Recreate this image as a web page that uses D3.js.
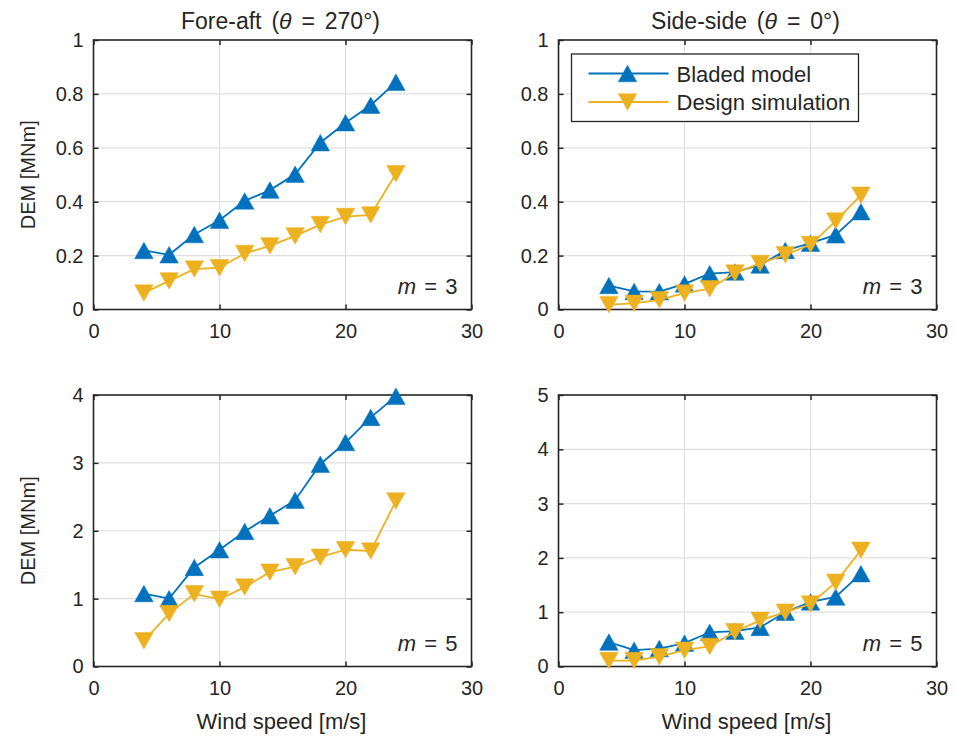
<!DOCTYPE html>
<html>
<head>
<meta charset="utf-8">
<script src="https://cdn.jsdelivr.net/npm/d3@7"></script>
<style>
  html, body { margin: 0; padding: 0; background: #fff; }
  svg text { font-family: "Liberation Sans", Arial, sans-serif; fill: #262626; }
</style>
</head>
<body>
<svg id="chart" width="955" height="742"></svg>
<script>
// ---------------- data ----------------
const windSpeed = [4, 6, 8, 10, 12, 14, 16, 18, 20, 22, 24];

const foreAftM3Bladed = [0.219, 0.203, 0.278, 0.331, 0.403, 0.443, 0.502, 0.619, 0.693, 0.758, 0.843];
const foreAftM3Design = [0.061, 0.106, 0.150, 0.155, 0.208, 0.236, 0.273, 0.315, 0.345, 0.351, 0.504];
const sideSideM3Bladed = [0.089, 0.067, 0.066, 0.095, 0.133, 0.139, 0.165, 0.219, 0.246, 0.277, 0.363];
const sideSideM3Design = [0.018, 0.023, 0.036, 0.061, 0.077, 0.135, 0.171, 0.203, 0.241, 0.328, 0.424];
const foreAftM5Bladed = [1.075, 1.00, 1.46, 1.72, 1.99, 2.22, 2.45, 2.98, 3.30, 3.67, 3.98];
const foreAftM5Design = [0.38, 0.78, 1.07, 0.99, 1.17, 1.39, 1.47, 1.61, 1.72, 1.70, 2.44];
const sideSideM5Bladed = [0.45, 0.30, 0.33, 0.43, 0.63, 0.65, 0.72, 1.00, 1.19, 1.28, 1.71];
const sideSideM5Design = [0.11, 0.11, 0.18, 0.30, 0.37, 0.64, 0.85, 1.00, 1.15, 1.55, 2.14];

const xTicks = [0, 10, 20, 30];
const yTicksM3 = [0, 0.2, 0.4, 0.6, 0.8, 1];
const yTicksFaM5 = [0, 1, 2, 3, 4];
const yTicksSsM5 = [0, 1, 2, 3, 4, 5];

const seriesNames = ["Bladed model", "Design simulation"];
const seriesColors = ["#0072BD", "#EDB120"];

// ---------------- layout ----------------
const svg = d3.select("#chart");
const axisColor = "#262626";
const gridColor = "#dfdfdf";
const tickFont = 20;
const labelFont = 22;

const colX = [[93.5, 471.5], [558.5, 936.5]];
const rowY = [[40, 309.5], [395, 666.5]];

function triPath(up, w, h) {
  const hw = w / 2, hh = h / 2;
  return up
    ? `M0,${-hh}L${hw},${hh}L${-hw},${hh}Z`
    : `M0,${hh}L${hw},${-hh}L${-hw},${-hh}Z`;
}

const panels = [
  { col: 0, row: 0, yMax: 1, yTicks: yTicksM3, data: [foreAftM3Bladed, foreAftM3Design], m: 3,
    title: ["Fore-aft (", "\u03B8", " = 270\u00B0)"], ylabel: true, xlabel: false, legend: false },
  { col: 1, row: 0, yMax: 1, yTicks: yTicksM3, data: [sideSideM3Bladed, sideSideM3Design], m: 3,
    title: ["Side-side (", "\u03B8", " = 0\u00B0)"], ylabel: false, xlabel: false, legend: true },
  { col: 0, row: 1, yMax: 4, yTicks: yTicksFaM5, data: [foreAftM5Bladed, foreAftM5Design], m: 5,
    title: null, ylabel: true, xlabel: true, legend: false },
  { col: 1, row: 1, yMax: 5, yTicks: yTicksSsM5, data: [sideSideM5Bladed, sideSideM5Design], m: 5,
    title: null, ylabel: false, xlabel: true, legend: false },
];

panels.forEach(p => {
  const [x0, x1] = colX[p.col];
  const [y0, y1] = rowY[p.row];
  const w = x1 - x0, h = y1 - y0;
  const x = d3.scaleLinear().domain([0, 30]).range([0, w]);
  const y = d3.scaleLinear().domain([0, p.yMax]).range([h, 0]);
  const g = svg.append("g").attr("transform", `translate(${x0},${y0})`);

  // grid
  g.append("g").selectAll("line").data(xTicks.filter(t => t > 0 && t < 30)).join("line")
    .attr("x1", d => x(d)).attr("x2", d => x(d)).attr("y1", 0).attr("y2", h)
    .attr("stroke", gridColor).attr("stroke-width", 1.2);
  g.append("g").selectAll("line").data(p.yTicks.filter(t => t > 0 && t < p.yMax)).join("line")
    .attr("x1", 0).attr("x2", w).attr("y1", d => y(d)).attr("y2", d => y(d))
    .attr("stroke", gridColor).attr("stroke-width", 1.2);

  // axes
  const xb = g.append("g").attr("transform", `translate(0,${h})`)
    .call(d3.axisBottom(x).tickValues(xTicks).tickSize(-5).tickPadding(14).tickFormat(d3.format("")));
  const xt = g.append("g")
    .call(d3.axisTop(x).tickValues(xTicks).tickSize(-5).tickFormat(""));
  const yl = g.append("g")
    .call(d3.axisLeft(y).tickValues(p.yTicks).tickSize(-5).tickPadding(10).tickFormat(d3.format("")));
  const yr = g.append("g").attr("transform", `translate(${w},0)`)
    .call(d3.axisRight(y).tickValues(p.yTicks).tickSize(-5).tickFormat(""));
  [xb, xt, yl, yr].forEach(a => {
    a.select(".domain").remove();
    a.selectAll(".tick line").attr("stroke", axisColor).attr("stroke-width", 1.5);
    a.selectAll(".tick text").attr("font-size", tickFont)
      .attr("font-family", "Liberation Sans, Arial, sans-serif").attr("fill", axisColor);
  });
  xb.selectAll(".tick text").attr("dy", "0.71em");

  // box
  g.append("rect").attr("x", 0).attr("y", 0).attr("width", w).attr("height", h)
    .attr("fill", "none").attr("stroke", axisColor).attr("stroke-width", 1.6);

  // series
  const line = d3.line().x((d, i) => x(windSpeed[i])).y(d => y(d));
  p.data.forEach((vals, si) => {
    g.append("path").datum(vals).attr("d", line)
      .attr("fill", "none").attr("stroke", seriesColors[si]).attr("stroke-width", 1.8);
    g.append("g").selectAll("path").data(vals).join("path")
      .attr("transform", (d, i) => `translate(${x(windSpeed[i])},${y(d)})`)
      .attr("d", triPath(si === 0, 18.5, 16.5))
      .attr("fill", seriesColors[si]).attr("stroke", seriesColors[si]).attr("stroke-width", 0.5);
  });

  // m = label
  const mt = g.append("text").attr("x", w - 14).attr("y", h - 16)
    .attr("text-anchor", "end").attr("font-size", labelFont).attr("word-spacing", 2);
  mt.append("tspan").attr("font-style", "italic").text("m");
  mt.append("tspan").text(" = " + p.m);

  // title
  if (p.title) {
    const t = svg.append("text").attr("x", x0 + w / 2 - 2).attr("y", 29)
      .attr("text-anchor", "middle").attr("font-size", 23).attr("word-spacing", 3.5);
    t.append("tspan").text(p.title[0]);
    t.append("tspan").attr("font-style", "italic").text(p.title[1]);
    t.append("tspan").text(p.title[2]);
  }
  if (p.ylabel) {
    svg.append("text").attr("transform", `translate(35,${y0 + h / 2}) rotate(-90)`)
      .attr("text-anchor", "middle").attr("font-size", 20).text("DEM [MNm]");
  }
  if (p.xlabel) {
    svg.append("text").attr("x", x0 + w / 2 - 1).attr("y", 729)
      .attr("text-anchor", "middle").attr("font-size", labelFont).text("Wind speed [m/s]");
  }

  // legend
  if (p.legend) {
    const lg = svg.append("g").attr("transform", `translate(571.5,54)`);
    lg.append("rect").attr("x", 0).attr("y", 0).attr("width", 287).attr("height", 67.5)
      .attr("fill", "#fff").attr("stroke", axisColor).attr("stroke-width", 1.3);
    seriesNames.forEach((name, si) => {
      const ry = 19.5 + si * 28.5;
      lg.append("line").attr("x1", 17).attr("x2", 97).attr("y1", ry).attr("y2", ry)
        .attr("stroke", seriesColors[si]).attr("stroke-width", 1.8);
      lg.append("path").attr("transform", `translate(56,${ry})`)
        .attr("d", triPath(si === 0, 18.5, 16.5)).attr("fill", seriesColors[si])
        .attr("stroke", seriesColors[si]).attr("stroke-width", 0.5);
      lg.append("text").attr("x", 105).attr("y", ry + 8).attr("font-size", labelFont).text(name);
    });
  }
});
</script>
</body>
</html>
